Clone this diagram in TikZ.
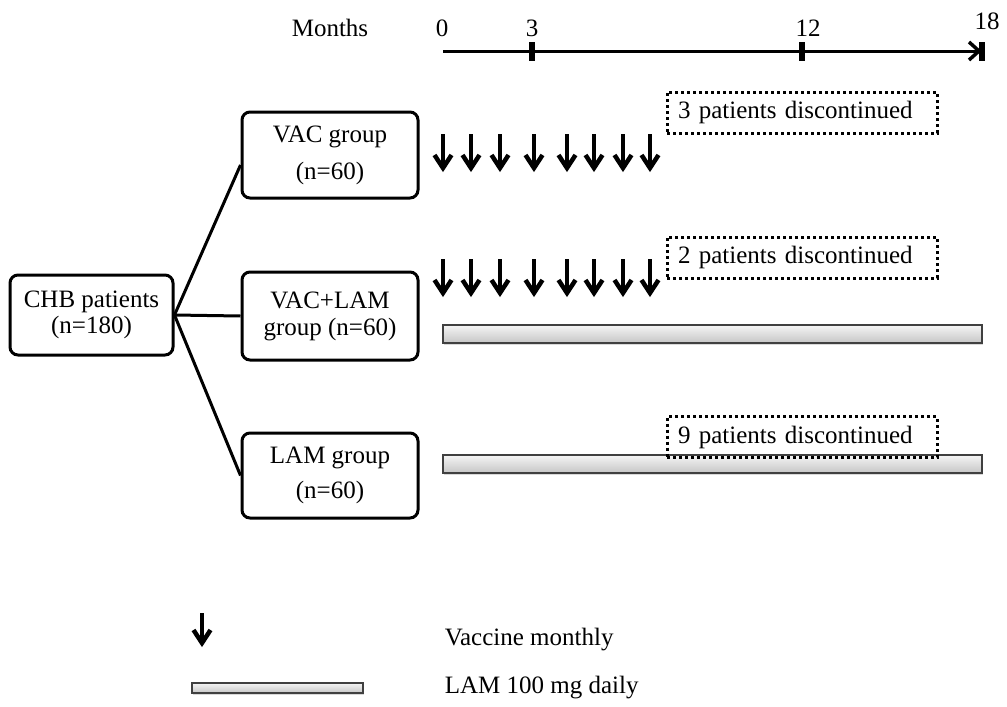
\documentclass[tikz,border=0pt]{standalone}
\usepackage{fontspec}
\setmainfont{Liberation Serif}
\usetikzlibrary{shadows}
\tikzset{
  >=latex,
  grpbox/.style={draw,line width=3pt,rounded corners=8pt,minimum width=176pt,align=center},
  stopbox/.style={draw,line width=3pt,dash pattern=on 3pt off 3pt,minimum width=270pt,
    minimum height=41pt,inner xsep=11pt,text width=248pt,align=left},
  lambar/.style={draw=black!75,line width=1.2pt,top color=gray!8,bottom color=gray!45,
    drop shadow={opacity=.3,shadow xshift=1pt,shadow yshift=-2pt}},
  arrlen/.store in=\arrlen, arrlen=38,
  vacarrow/.pic={
    \draw[line width=4pt] (0,-\arrlen)--(0,-6);
    \draw[line width=4.5pt,line join=miter] (-8.5,-17)--(0,-4)--(8.5,-17);
  }
}

\begin{document}
\begin{tikzpicture}[x=1pt,y=-1pt,line width=3pt,font=\fontsize{25}{30}\selectfont]
      \useasboundingbox (0,0) rectangle (1007,707);
      % time line
      \coordinate (t0) at (443,51);
      \coordinate (t18) at (979,51);
      \draw (t0)--(t18);
      \draw[line width=3.5pt,line join=miter] (969,42)--(979,51)--(969,60);
      \foreach \x in {532,802,982} \fill (\x-3,42) rectangle (\x+3,61);
      \node at (330,28){Months};
      \node at (442,28){0};
      \node at (532,28){3};
      \node at (808,28){12};
      \node at (987,21){18};
      % groups
      \node[grpbox,minimum width=163pt,minimum height=80pt] (chb) at (91.5,315){CHB patients\\[-4pt](n=180)};
      \node[grpbox,minimum height=86pt] (vac) at (330,155){VAC group\\[7pt](n=60)};
      \node[grpbox,minimum height=88pt] (vaclam) at (330,316){VAC+LAM\\[-3pt]group (n=60)};
      \node[grpbox,minimum height=85pt] (lam) at (330,475.5){LAM group\\[5pt](n=60)};
      \draw (chb.east)--([yshift=-10pt]vac.west);
      \draw (chb.east)--(vaclam.west);
      \draw (chb.east)--(lam.west);
      % vaccine and LAM
      \foreach \x in {443,471,500,534,567,594,623,650}{
        \pic at (\x,172) {vacarrow};
        \pic at (\x,297) {vacarrow};
      }
      \draw[lambar] (443,325) rectangle (982,343);
      \draw[lambar] (443,455) rectangle (982,473);
      \node[stopbox] (stop1) at (802,112.5){3 patients discontinued};
      \node[stopbox] (stop2) at (802,257.5){2 patients discontinued};
      \node[stopbox] (stop3) at (802,437){9 patients discontinued};
      % legend
      \pic[arrlen=34] at (202,647) {vacarrow};
      \draw[lambar] (192,683) rectangle (363,693);
      \node[anchor=west] (legvac) at (440,640){Vaccine monthly};
      \node[anchor=west] (leglam) at (440,688){LAM 100 mg daily};
    \end{tikzpicture}
\end{document}
